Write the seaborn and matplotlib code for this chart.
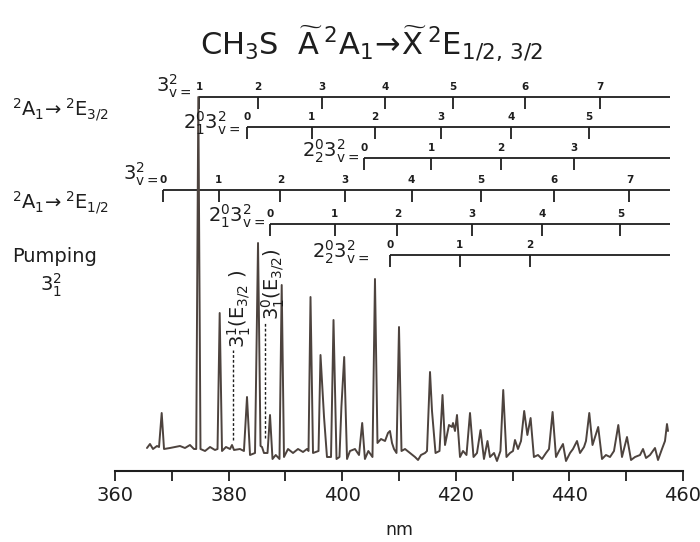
import matplotlib
matplotlib.use("Agg")
import matplotlib.pyplot as plt
import numpy as np
import pandas as pd
import seaborn as sns

# ---------------- data ----------------
wavelength_nm = [365.63, 366.16, 366.69, 367.39, 367.75, 368.22, 368.63, 369.68, 371.44, 372.32,
                 373.2, 373.9, 374.3, 374.67, 375.05, 375.85, 376.73, 377.6, 378.05, 378.43,
                 378.84, 379.54, 380.25, 380.6, 380.95, 382.0, 382.7, 383.24, 383.77, 384.65,
                 385.18, 385.62, 385.88, 386.23, 386.85, 387.29, 387.73, 388.3, 388.96, 389.35,
                 389.75, 390.46, 391.34, 392.22, 393.1, 393.8, 394.07, 394.42, 394.86, 395.83,
                 396.18, 396.8, 397.32, 398.03, 398.47, 399.0, 399.52, 399.86, 400.35, 400.85,
                 401.37, 402.25, 402.96, 403.52, 404.0, 404.6, 405.33, 405.77, 406.21, 406.83,
                 407.54, 408.06, 408.41, 408.77, 409.12, 409.56, 410.0, 410.44, 411.06, 411.94,
                 412.82, 413.35, 413.87, 414.58, 414.93, 415.46, 415.81, 416.43, 417.13, 417.66,
                 418.1, 418.8, 419.33, 419.51, 419.86, 420.21, 420.74, 421.27, 421.88, 422.5,
                 423.12, 423.73, 424.35, 424.96, 425.58, 426.02, 426.73, 427.25, 427.86, 428.35,
                 428.92, 429.54, 430.07, 430.42, 430.95, 431.48, 432.04, 432.6, 433.17, 433.75,
                 434.47, 435.17, 435.88, 436.41, 437.04, 437.64, 438.17, 438.87, 439.4, 440.11,
                 440.63, 441.34, 441.87, 442.57, 442.92, 443.5, 444.07, 445.07, 445.74, 446.44,
                 447.15, 447.85, 448.61, 449.26, 450.14, 450.85, 451.55, 452.43, 452.96, 453.49,
                 454.19, 455.07, 455.6, 456.3, 456.83, 457.18, 457.36]
intensity = [23, 27, 22, 25, 24, 58, 22, 23, 25, 23,
             26, 22, 22, 374, 22, 20, 24, 21, 22, 158,
             20, 24, 22, 26, 21, 22, 20, 74, 16, 18,
             228, 25, 24, 18, 18, 56, 12, 16, 12, 186,
             14, 22, 18, 22, 19, 22, 20, 174, 18, 20,
             116, 54, 14, 14, 151, 12, 14, 64, 114, 12,
             20, 22, 16, 48, 12, 20, 14, 192, 28, 32,
             30, 38, 40, 28, 22, 18, 144, 20, 22, 18,
             14, 11, 16, 18, 20, 99, 60, 18, 20, 76,
             26, 46, 44, 48, 40, 56, 14, 20, 16, 58,
             14, 18, 41, 12, 30, 14, 18, 10, 20, 81,
             14, 18, 20, 31, 22, 30, 60, 36, 53, 14,
             16, 12, 18, 22, 59, 14, 20, 27, 10, 18,
             22, 30, 18, 24, 30, 58, 26, 44, 12, 16,
             14, 20, 46, 14, 34, 11, 14, 16, 22, 13,
             16, 23, 11, 22, 30, 47, 40]

x_ticks = [360, 370, 380, 390, 400, 410, 420, 430, 440, 450, 460]
x_tick_labels = ["360", "", "380", "", "400", "", "420", "", "440", "", "460"]

# vibrational progressions (band positions, nm) and their v labels
E32_3v = [374.79, 385.18, 396.44, 407.54, 419.51, 432.18, 445.39]
E32_3v_labels = ["1", "2", "3", "4", "5", "6", "7"]
E32_21_3v = [383.24, 394.61, 405.77, 417.32, 429.72, 443.45]
E32_21_3v_labels = ["0", "1", "2", "3", "4", "5"]
E32_22_3v = [403.8, 415.63, 427.96, 440.76]
E32_22_3v_labels = ["0", "1", "2", "3"]
E12_3v = [368.45, 378.27, 389.12, 400.49, 412.22, 424.44, 437.22, 450.58]
E12_3v_labels = ["0", "1", "2", "3", "4", "5", "6", "7"]
E12_21_3v = [387.29, 398.7, 409.7, 422.83, 435.25, 448.99]
E12_21_3v_labels = ["0", "1", "2", "3", "4", "5"]
E12_22_3v = [408.36, 420.7, 433.06]
E12_22_3v_labels = ["0", "1", "2"]
progression_end = 457.7

# assigned hot bands (dashed markers)
hot_band_nm = [380.72, 386.41]

# ---------------- figure ----------------
sns.set_style("ticks")
plt.rcParams["font.family"] = ["DejaVu Sans"]
plt.rcParams["mathtext.default"] = "regular"

W, H = 700, 542
fig = plt.figure(figsize=(W / 100, H / 100), dpi=100)
fig.patch.set_facecolor("white")
ax = fig.add_axes([115 / W, 71 / H, 568 / W, 411 / H])
ax.set_facecolor("none")

ink = "#1e1e1e"
trace = "#4d433e"

df = pd.DataFrame({"nm": wavelength_nm, "I": intensity})
sns.lineplot(data=df, x="nm", y="I", ax=ax, color=trace, linewidth=1.4,
             sort=False, estimator=None, zorder=3)

ax.set_xlim(360, 460)
ax.set_ylim(0, 411)
sns.despine(ax=ax, left=True, top=True, right=True)
ax.set_yticks([])
ax.set_ylabel("")
ax.set_xticks(x_ticks)
ax.set_xticklabels(x_tick_labels, fontsize=14, color=ink)
ax.tick_params(axis="x", direction="out", length=7, width=1.3, pad=4, color=ink)
ax.spines["bottom"].set_linewidth(1.5)
ax.spines["bottom"].set_color(ink)
ax.set_xlabel("nm", fontsize=12.5, labelpad=11, color=ink)

# progressions
rows = [
    (E32_3v, E32_3v_labels, 374.3, r"$3^{2}_{v=}$", 373.5, 379),
    (E32_21_3v, E32_21_3v_labels, 343.7, r"$2^{0}_{1}3^{2}_{v=}$", 382.0, 342),
    (E32_22_3v, E32_22_3v_labels, 312.7, r"$2^{0}_{2}3^{2}_{v=}$", 403.0, 314),
    (E12_3v, E12_3v_labels, 281.0, r"$3^{2}_{v=}$", 367.6, 291),
    (E12_21_3v, E12_21_3v_labels, 247.0, r"$2^{0}_{1}3^{2}_{v=}$", 386.5, 249),
    (E12_22_3v, E12_22_3v_labels, 216.0, r"$2^{0}_{2}3^{2}_{v=}$", 404.8, 213),
]
for pos, labs, y, name, name_x, name_y in rows:
    ax.hlines(y, pos[0], progression_end, color=ink, linewidth=1.3, zorder=2)
    ax.vlines(pos, y - 12, y, color=ink, linewidth=1.3, zorder=2)
    for p, l in zip(pos, labs):
        ax.text(p, y + 10, l, ha="center", va="center", fontsize=7.5,
                fontweight="bold", color=ink)
    ax.text(name_x, name_y, name, ha="right", va="baseline", fontsize=14, color=ink)

# hot band markers
ax.vlines(hot_band_nm[0], 31, 121, color=ink, linewidth=1.0, linestyles=(0, (2, 1.5)))
ax.vlines(hot_band_nm[1], 33, 148, color=ink, linewidth=1.0, linestyles=(0, (2, 1.5)))
ax.text(381.9, 123, r"$3^{1}_{1}(E_{3/2}\ )$", rotation=90, ha="center", va="bottom",
        fontsize=14, color=ink)
ax.text(387.8, 151, r"$3^{0}_{1}(E_{3/2})$", rotation=90, ha="center", va="bottom",
        fontsize=14, color=ink)

# figure texts
def fx(px):
    return px / W

def fy(py):
    return 1 - py / H

fig.text(fx(372), fy(43),
         r"CH$_{3}$S  $\widetilde{A}\,{}^{2}A_{1}\!\rightarrow\!\widetilde{X}\,{}^{2}E_{1/2,\,3/2}$",
         ha="center", va="center", fontsize=22, color=ink)
fig.text(fx(12), fy(110), r"${}^{2}A_{1}\!\rightarrow{}^{2}E_{3/2}$", ha="left", va="center",
         fontsize=14, color=ink)
fig.text(fx(12), fy(203), r"${}^{2}A_{1}\!\rightarrow{}^{2}E_{1/2}$", ha="left", va="center",
         fontsize=14, color=ink)
fig.text(fx(12), fy(257), "Pumping", ha="left", va="center", fontsize=14, color=ink)
fig.text(fx(51), fy(285), r"$3^{2}_{1}$", ha="center", va="center", fontsize=14, color=ink)

fig.savefig("out.png", dpi=100, facecolor=fig.get_facecolor())
